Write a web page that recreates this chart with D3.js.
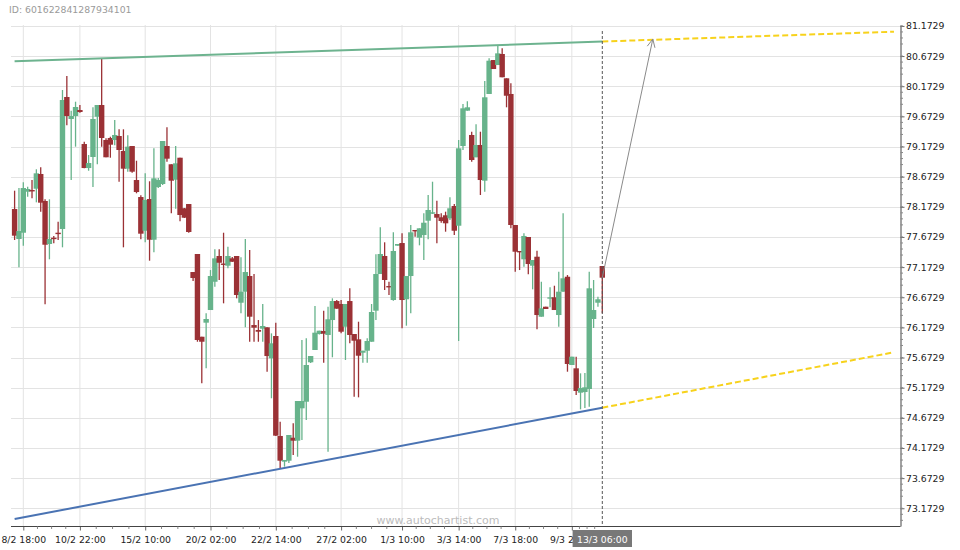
<!DOCTYPE html>
<html><head><meta charset="utf-8">
<script src="https://cdn.jsdelivr.net/npm/d3@7/dist/d3.min.js"></script>
<style>body{margin:0;background:#fff}svg{display:block}text{font-family:"DejaVu Sans",Verdana,sans-serif}</style>
</head><body><svg id="c" width="960" height="550"></svg>
<script>
const chartId = "ID: 601622841287934101";
const watermark = "www.autochartist.com";

const opens = [78.136,77.639,77.743,78.423,78.451,78.473,78.717,78.269,77.556,77.660,
77.743,77.805,79.994,79.629,79.679,79.778,79.214,78.816,78.999,79.667,
79.861,79.281,79.314,79.281,79.347,79.098,78.805,79.181,78.617,78.335,
77.776,78.302,77.627,78.501,78.551,79.181,78.878,78.622,78.987,78.148,
78.219,77.091,77.390,76.018,76.251,76.461,76.930,77.357,77.232,77.196,
77.318,77.357,76.582,76.765,77.025,76.212,76.130,76.151,76.174,75.660,
76.030,74.372,73.946,73.962,74.343,74.294,74.831,74.940,75.594,75.798,
76.063,76.113,76.047,76.295,76.610,76.561,76.184,76.610,76.063,75.975,
75.753,75.786,75.935,76.450,77.058,77.357,76.859,76.627,77.528,77.572,
76.639,77.025,77.788,77.660,77.705,77.942,78.058,78.053,77.999,78.032,
77.982,78.186,77.859,79.181,79.767,79.364,78.994,79.198,78.606,80.044,
80.607,80.524,80.707,80.304,80.044,77.871,77.440,77.302,77.672,77.196,
77.345,76.350,76.516,76.655,76.672,76.378,76.765,77.013,75.549,75.494,
75.090,75.101,75.151,76.312,76.582,77.191];
const highs = [78.440,78.484,78.579,78.506,78.617,78.795,78.828,78.297,78.297,77.689,
77.926,80.110,80.342,79.767,79.916,79.861,79.252,79.032,79.823,79.861,
80.624,79.309,79.335,79.612,79.458,79.458,79.359,79.181,78.937,78.364,
78.728,78.596,79.143,78.650,79.264,79.491,78.878,79.181,78.987,78.153,
78.219,77.091,77.390,76.018,76.406,77.124,77.468,77.468,77.743,77.511,
77.340,77.357,77.335,77.639,77.456,77.058,76.295,76.561,76.174,76.074,
76.251,74.609,73.974,74.388,74.582,74.952,75.964,75.992,75.698,76.528,
76.118,76.450,76.516,76.655,76.627,76.627,76.561,76.821,76.063,76.267,
75.786,75.992,76.561,77.385,77.833,77.584,76.930,77.750,77.556,77.733,
77.025,77.871,77.788,77.816,78.065,78.369,78.589,78.274,78.065,78.092,
78.330,78.219,79.281,79.878,79.922,79.418,79.541,79.418,80.259,80.636,
80.607,80.856,80.801,80.304,80.221,77.871,77.440,77.733,77.672,77.290,
77.445,76.930,76.516,76.838,76.864,77.096,78.065,77.041,75.687,75.687,
75.411,75.416,77.096,76.959,76.682,77.191];
const lows = [77.622,77.169,77.528,78.340,78.314,78.247,78.092,76.556,77.302,77.567,
77.622,77.501,79.524,78.617,79.170,79.734,78.811,78.771,78.501,78.878,
79.170,78.994,78.987,79.193,78.589,77.501,78.755,78.738,78.397,77.634,
77.584,77.279,77.418,78.484,78.534,78.921,78.065,78.141,77.932,77.987,
77.743,76.942,75.935,75.245,75.494,76.461,76.848,76.959,76.572,77.152,
77.257,76.655,76.406,76.174,75.935,75.935,75.935,75.935,75.438,74.997,
74.372,73.836,73.863,73.924,74.057,74.028,74.305,74.637,75.582,75.798,
76.055,75.587,74.111,75.677,76.483,76.074,75.632,75.909,75.023,75.013,
75.587,75.587,75.935,76.295,77.058,76.793,76.710,76.616,77.528,76.158,
76.201,76.406,77.677,77.534,77.290,77.634,78.053,77.567,77.909,77.760,
77.954,77.705,75.947,79.115,79.767,78.921,78.994,78.369,78.423,80.044,
80.458,80.524,80.321,79.823,77.816,77.096,77.124,77.179,77.053,76.804,
76.141,76.350,76.478,76.506,76.461,76.184,76.765,75.438,75.549,75.051,
74.814,74.836,74.857,76.163,76.516,76.406];
const closes = [77.694,77.771,78.484,78.468,78.435,78.728,78.241,77.544,77.639,77.639,
77.722,79.944,79.679,79.679,79.828,79.745,78.816,78.899,79.629,79.861,
79.314,78.994,79.203,79.364,79.115,78.805,79.170,78.755,78.418,77.727,
78.286,77.627,78.645,78.617,79.264,78.971,78.606,78.894,78.037,77.992,
77.755,76.992,75.964,75.935,76.312,77.025,77.318,77.245,77.216,77.357,
77.262,76.710,76.765,77.091,76.350,76.168,76.101,76.196,75.698,75.909,
74.377,73.962,73.974,74.388,74.294,74.952,74.952,75.549,75.698,76.085,
76.118,76.068,76.307,76.610,76.483,76.101,76.561,76.047,75.952,75.703,
75.786,75.947,76.428,77.058,77.390,76.959,76.843,77.440,77.556,76.627,
77.025,77.750,77.771,77.816,77.909,78.120,78.082,77.992,77.937,77.899,
78.148,77.776,79.143,79.806,79.823,78.949,79.198,78.617,79.989,80.596,
80.458,80.718,80.321,80.015,77.871,77.428,77.418,77.689,77.224,77.290,
76.378,76.489,76.478,76.672,76.461,76.765,76.987,75.566,75.687,75.118,
75.167,75.179,76.821,76.461,76.639,76.997];

const timeLabels = ["8/2 18:00","10/2 22:00","15/2 10:00","20/2 02:00","22/2 14:00","27/2 02:00","1/3 10:00","3/3 14:00","7/3 18:00","9/3 22:00"];
const timeLabelIndex = [2,15,30,45,60,75,89,102,115,128];
const currentLabel = "13/3 06:00";
const currentIndex = 135;
const priceTicks = [73.1729,73.6729,74.1729,74.6729,75.1729,75.6729,76.1729,76.6729,77.1729,77.6729,78.1729,78.6729,79.1729,79.6729,80.1729,80.6729,81.1729];

const resistance = [[0,80.586],[135,80.914]];
const resistanceProj = [[135,80.914],[202,81.077]];
const support = [[0,72.995],[135,74.841]];
const supportProj = [[135,74.841],[202,75.76]];
const forecastArrow = [[135,76.997],[146.6,80.955]];

const GREEN = "#67b38b", RED = "#9b3135";
const L = 11, R = 900.5, T = 25, B = 526;
const svg = d3.select("#c");
const x = d3.scaleLinear().domain([0, 135]).range([14.6, 602.3]);
const y = d3.scaleLinear().domain([72.879, 81.188]).range([B, T]);

// grid
const grid = svg.append("g").attr("stroke", "#e3e3e3").attr("stroke-width", 1);
grid.selectAll("line.h").data(priceTicks).join("line")
  .attr("x1", L).attr("x2", R).attr("y1", d => Math.round(y(d)) + 0.5).attr("y2", d => Math.round(y(d)) + 0.5);
grid.selectAll("line.v").data(timeLabelIndex).join("line")
  .attr("x1", d => x(d)).attr("x2", d => x(d)).attr("y1", T).attr("y2", B);

// watermark
svg.append("text").attr("x", 438).attr("y", 524).attr("text-anchor", "middle")
  .attr("fill", "#bcbcbc").attr("font-size", "11px").text(watermark);

// candles
const data = opens.map((o, i) => ({i, o, h: highs[i], l: lows[i], c: closes[i]}));
const cg = svg.append("g");
cg.selectAll("line").data(data).join("line")
  .attr("x1", d => x(d.i)).attr("x2", d => x(d.i))
  .attr("y1", d => y(d.h)).attr("y2", d => y(d.l))
  .attr("stroke", d => d.c >= d.o ? GREEN : RED).attr("stroke-width", 1.3);
cg.selectAll("rect").data(data).join("rect")
  .attr("x", d => x(d.i) - 2.7).attr("width", 5.4)
  .attr("y", d => y(Math.max(d.o, d.c)))
  .attr("height", d => Math.max(1.4, Math.abs(y(d.o) - y(d.c))))
  .attr("fill", d => d.c >= d.o ? GREEN : RED);

// trend lines
const line = d3.line().x(d => x(d[0])).y(d => y(d[1]));
svg.append("path").attr("d", line(resistance)).attr("fill", "none").attr("stroke", "#6db38f").attr("stroke-width", 2);
svg.append("path").attr("d", line(support)).attr("fill", "none").attr("stroke", "#4a73b3").attr("stroke-width", 2);
[resistanceProj, supportProj].forEach(p => svg.append("path").attr("d", line(p)).attr("fill", "none")
  .attr("stroke", "#f7d21c").attr("stroke-width", 2).attr("stroke-dasharray", "6,3"));

// current time marker
svg.append("line").attr("x1", x(currentIndex)).attr("x2", x(currentIndex)).attr("y1", 31).attr("y2", B)
  .attr("stroke", "#555").attr("stroke-width", 1).attr("stroke-dasharray", "3,2");

// forecast arrow
const [a0, a1] = forecastArrow.map(d => [x(d[0]), y(d[1])]);
const ang = Math.atan2(a1[1] - a0[1], a1[0] - a0[0]);
const hl = 9, ha = 0.45;
svg.append("path")
  .attr("d", `M${a0[0]},${a0[1]}L${a1[0]},${a1[1]}M${a1[0] - hl * Math.cos(ang - ha)},${a1[1] - hl * Math.sin(ang - ha)}L${a1[0]},${a1[1]}L${a1[0] - hl * Math.cos(ang + ha)},${a1[1] - hl * Math.sin(ang + ha)}`)
  .attr("fill", "none").attr("stroke", "#8a8a8a").attr("stroke-width", 1);

// right axis
const yAxis = d3.axisRight(y).tickValues(priceTicks).tickFormat(d => d.toFixed(4)).tickSize(4).tickSizeOuter(0).tickPadding(1.5);
const ya = svg.append("g").attr("transform", `translate(${R},0)`).call(yAxis);
ya.select(".domain").attr("stroke", "#444");
ya.selectAll(".tick line").attr("stroke", "#666");
ya.selectAll("text").attr("font-size", "9.3px").attr("fill", "#222").style("font-family", "DejaVu Sans");
const minorP = d3.range(-2, 81).map(k => 73.1729 + k * 0.1).filter((v, k) => (k + 2) % 5 !== 0 && v > y.domain()[0] && v < y.domain()[1]);
svg.append("g").selectAll("line").data(minorP).join("line")
  .attr("x1", R).attr("x2", R + 2.5).attr("y1", d => y(d)).attr("y2", d => y(d)).attr("stroke", "#888");

// bottom axis
const xAxis = d3.axisBottom(x).tickValues(timeLabelIndex).tickFormat((d, i) => timeLabels[i]).tickSize(4).tickSizeOuter(0).tickPadding(5.4);
const xa = svg.append("g").attr("transform", `translate(0,${B + 0.5})`).call(xAxis);
xa.select(".domain").remove();
xa.selectAll(".tick line").attr("stroke", "#666");
xa.selectAll("text").attr("font-size", "9.3px").attr("fill", "#222").style("font-family", "DejaVu Sans");
svg.append("line").attr("x1", L).attr("x2", R).attr("y1", B + 0.5).attr("y2", B + 0.5).attr("stroke", "#444");
const allIdx = timeLabelIndex.concat([currentIndex]);
const minorX = [];
for (let k = 0; k < allIdx.length - 1; k++) for (let q = 1; q < 4; q++) minorX.push(allIdx[k] + (allIdx[k + 1] - allIdx[k]) * q / 4);
svg.append("g").selectAll("line").data(minorX).join("line")
  .attr("x1", d => x(d)).attr("x2", d => x(d)).attr("y1", B + 0.5).attr("y2", B + 3).attr("stroke", "#888");

// current label
const cx = x(currentIndex);
svg.append("rect").attr("x", cx - 29.7).attr("y", 530).attr("width", 59.4).attr("height", 17).attr("fill", "#787878");
svg.append("text").attr("x", cx).attr("y", 542.5).attr("text-anchor", "middle").attr("fill", "#fff")
  .attr("font-size", "9.3px").text(currentLabel);

// id
svg.append("text").attr("x", 9).attr("y", 13).attr("fill", "#9a9a9a").attr("font-size", "9.3px").text(chartId);
</script></body></html>
